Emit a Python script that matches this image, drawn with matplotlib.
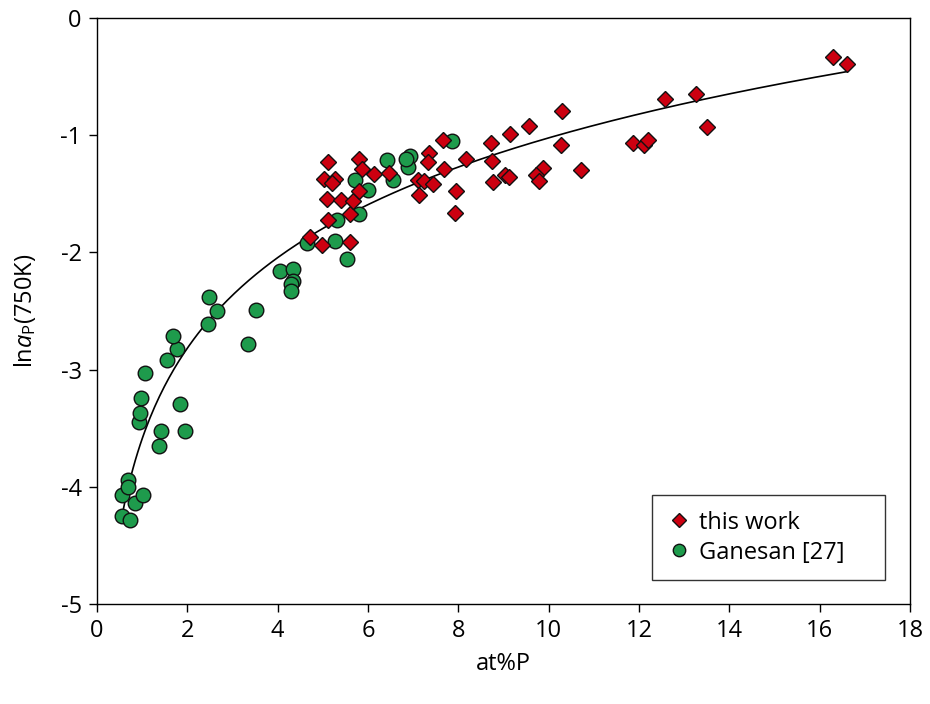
import numpy as np
import matplotlib
matplotlib.use("Agg")
import matplotlib.pyplot as plt

plt.rcParams['font.family'] = ['Open Sans', 'DejaVu Sans']
plt.rcParams['mathtext.fontset'] = 'custom'
plt.rcParams['mathtext.rm'] = 'Open Sans'
plt.rcParams['mathtext.it'] = 'Open Sans:italic'

# this work: P content (at%) and ln a_P at 750 K
work_x = [4.72, 4.99, 5.60, 5.12, 5.60, 5.12, 5.03, 5.27, 5.20, 5.09, 5.41, 5.67,
          5.79, 5.79, 5.86, 6.13, 6.47, 7.36, 7.32, 7.67, 7.68, 7.11, 7.24, 7.45,
          7.14, 8.18, 7.95, 7.93, 8.72, 8.74, 8.76, 9.03, 9.13, 9.14, 9.57, 10.30,
          10.27, 9.88, 9.72, 9.79, 10.71, 11.87, 12.11, 12.21, 12.57, 13.26, 13.51,
          16.30, 16.61]
work_y = [-1.87, -1.94, -1.91, -1.72, -1.67, -1.23, -1.37, -1.37, -1.41, -1.54, -1.55, -1.56,
          -1.48, -1.20, -1.29, -1.33, -1.32, -1.15, -1.23, -1.04, -1.29, -1.38, -1.39, -1.42,
          -1.51, -1.20, -1.48, -1.66, -1.07, -1.22, -1.40, -1.34, -1.36, -0.99, -0.92, -0.79,
          -1.08, -1.28, -1.34, -1.39, -1.30, -1.07, -1.08, -1.04, -0.69, -0.65, -0.93,
          -0.33, -0.39]

# Ganesan [27]
gan_x = [0.55, 0.73, 0.55, 0.68, 0.69, 0.84, 1.01, 0.94, 0.95, 0.97, 1.06, 1.37,
         1.41, 1.84, 1.95, 1.56, 1.78, 1.68, 2.46, 2.66, 2.49, 3.34, 3.52, 4.05,
         4.35, 4.33, 4.29, 4.29, 4.66, 5.27, 5.54, 5.32, 5.79, 5.71, 6.01, 6.41,
         6.56, 6.93, 6.89, 6.85, 7.87]
gan_y = [-4.25, -4.28, -4.07, -3.94, -4.00, -4.14, -4.07, -3.45, -3.37, -3.24, -3.03, -3.65,
         -3.52, -3.29, -3.52, -2.92, -2.82, -2.71, -2.61, -2.50, -2.38, -2.78, -2.49, -2.16,
         -2.14, -2.24, -2.27, -2.33, -1.92, -1.90, -2.06, -1.72, -1.67, -1.38, -1.47, -1.21,
         -1.38, -1.18, -1.27, -1.20, -1.05]

# logarithmic trend line: y = A ln(x) + B
fit_A = 1.115
fit_B = -3.59
fit_range = (0.58, 16.6)

x_ticks = [0, 2, 4, 6, 8, 10, 12, 14, 16, 18]
y_ticks = [0, -1, -2, -3, -4, -5]

fig = plt.figure(figsize=(9.3, 7.04), dpi=100)
ax = fig.add_axes([0.1043, 0.142, 0.8742, 0.8324])

xf = np.linspace(fit_range[0], fit_range[1], 300)
ax.plot(xf, fit_A * np.log(xf) + fit_B, color='black', lw=1.2, zorder=2)

ax.plot(gan_x, gan_y, linestyle='none', marker='o', markersize=10.5,
        markerfacecolor='#1E9B4C', markeredgecolor='#111111', markeredgewidth=1.0,
        zorder=3, label='Ganesan [27]')
ax.plot(work_x, work_y, linestyle='none', marker='D', markersize=8.6,
        markerfacecolor='#CC0010', markeredgecolor='#111111', markeredgewidth=1.0,
        zorder=4, label='this work')

ax.set_xlim(0, 18)
ax.set_ylim(-5, 0)
ax.set_xticks(x_ticks)
ax.set_yticks(y_ticks)
ax.set_xticklabels([str(t) for t in x_ticks])
ax.set_yticklabels([str(t) for t in y_ticks])
ax.tick_params(direction='out', length=6, width=1, labelsize=17, pad=5)
for s in ax.spines.values():
    s.set_linewidth(1.0)

ax.set_xlabel('at%P', fontsize=17, labelpad=6)
ax.set_ylabel(r'ln$\mathit{a}_{\mathrm{P}}$(750K)', fontsize=17, labelpad=16)

h, l = ax.get_legend_handles_labels()
leg = ax.legend([h[1], h[0]], [l[1], l[0]], loc='lower left',
                bbox_to_anchor=(0.6827, 0.041, 0.2866, 0.1416), mode='expand',
                fontsize=17, frameon=True,
                fancybox=False, edgecolor='black', borderpad=0.65,
                handletextpad=0.35, markerscale=0.85, handlelength=1.0,
                labelspacing=0.25, borderaxespad=0)
leg.get_frame().set_linewidth(1.0)
leg.get_frame().set_boxstyle('square', pad=0.0)

fig.savefig('out.png', dpi=100)
